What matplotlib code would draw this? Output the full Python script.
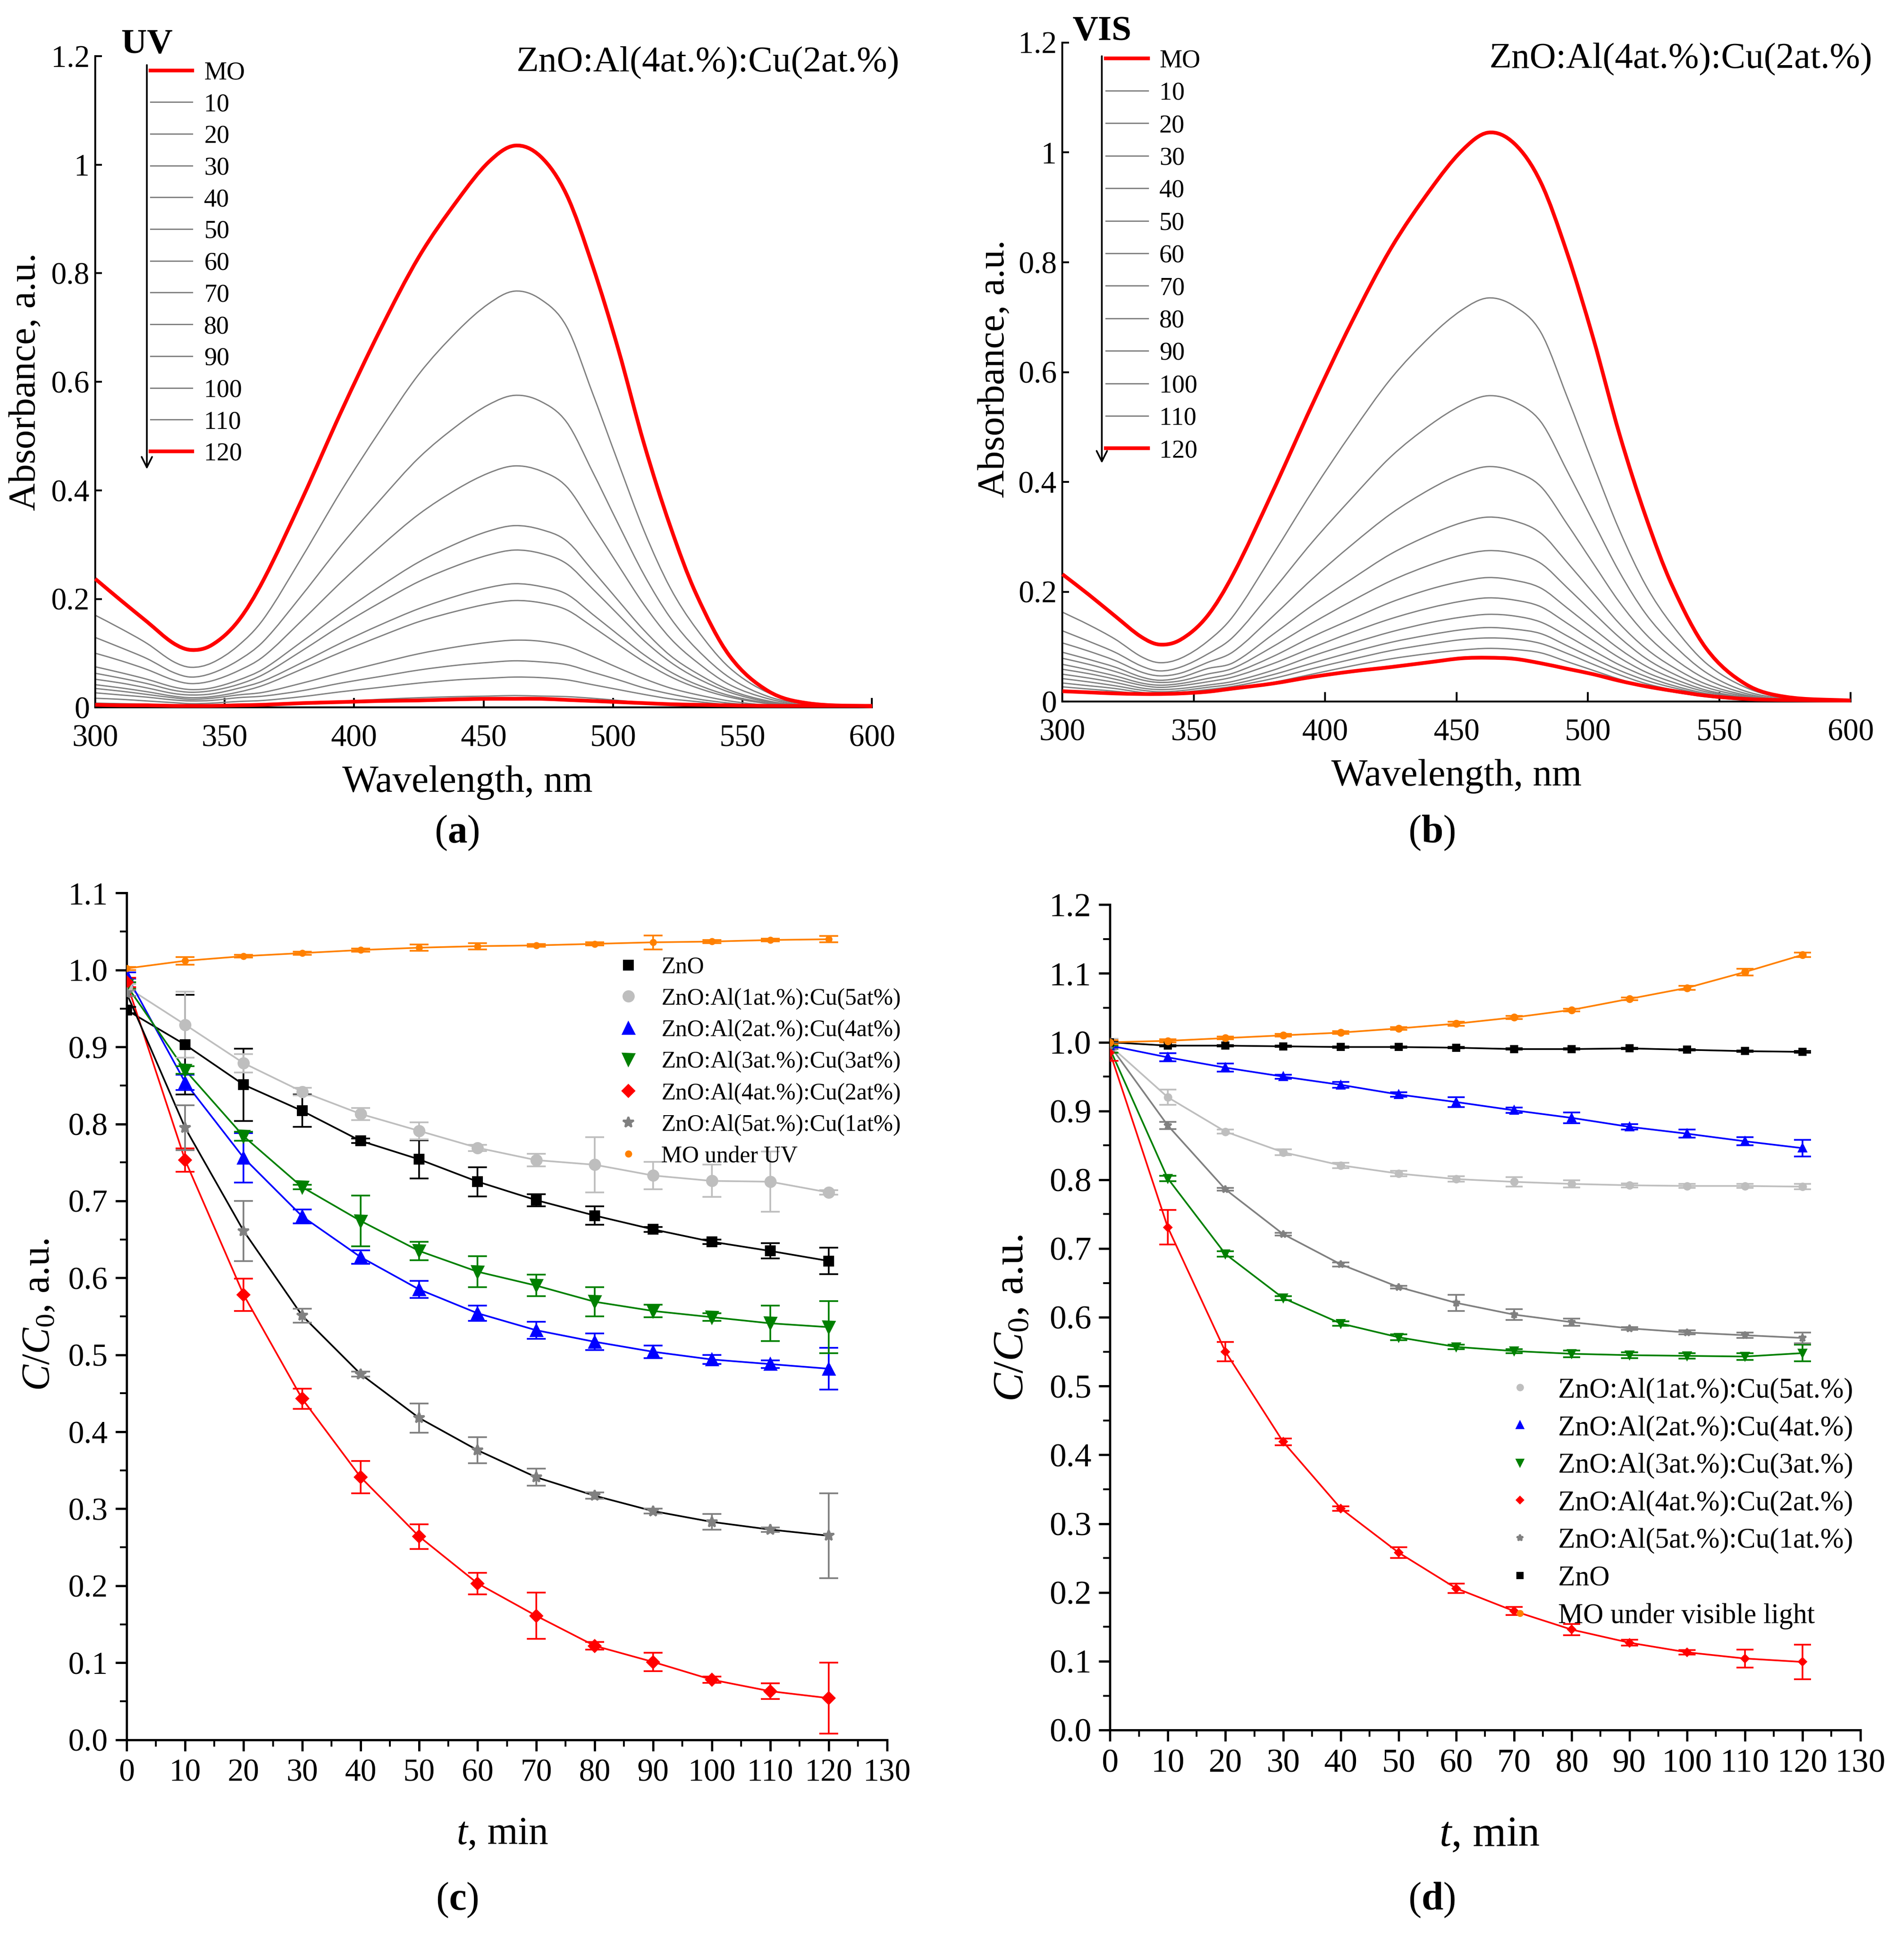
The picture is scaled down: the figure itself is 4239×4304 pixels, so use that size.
import matplotlib
matplotlib.use('Agg')
import matplotlib.pyplot as plt
from matplotlib.lines import Line2D
from matplotlib.path import Path
from matplotlib.patches import PathPatch
from matplotlib.ticker import MultipleLocator, FuncFormatter

plt.rcParams['font.family'] = ['Liberation Serif', 'DejaVu Serif']
plt.rcParams['mathtext.fontset'] = 'custom'
plt.rcParams['mathtext.rm'] = 'Liberation Serif'
plt.rcParams['mathtext.it'] = 'Liberation Serif:italic'
plt.rcParams['mathtext.bf'] = 'Liberation Serif:bold'

# ---- spectra, panels (a) UV and (b) VIS ----
wavelength = [300, 310, 320, 330, 337, 345, 355, 365, 380, 395, 410, 425, 440,
              452, 462, 472, 482, 492, 502, 512, 522, 532, 545, 560, 575, 600]
spectra_labels = ['MO', '10', '20', '30', '40', '50', '60', '70', '80', '90', '100', '110', '120']

uv_mo = [0.237, 0.197, 0.158, 0.119, 0.106, 0.115, 0.158, 0.235, 0.385, 0.545, 0.695, 0.830, 0.935, 1.005, 1.035, 1.015, 0.945, 0.815, 0.660, 0.485, 0.335, 0.210, 0.095, 0.030, 0.008, 0.002]
uv_10 = [0.170, 0.145, 0.118, 0.085, 0.074, 0.082, 0.113, 0.163, 0.278, 0.399, 0.510, 0.614, 0.694, 0.744, 0.767, 0.752, 0.702, 0.580, 0.451, 0.325, 0.221, 0.146, 0.073, 0.027, 0.008, 0.002]
uv_20 = [0.129, 0.110, 0.090, 0.065, 0.056, 0.063, 0.086, 0.122, 0.208, 0.299, 0.382, 0.460, 0.520, 0.558, 0.575, 0.564, 0.526, 0.435, 0.338, 0.244, 0.166, 0.109, 0.055, 0.020, 0.006, 0.001]
uv_30 = [0.100, 0.086, 0.070, 0.051, 0.044, 0.049, 0.067, 0.094, 0.161, 0.231, 0.296, 0.356, 0.403, 0.432, 0.445, 0.436, 0.407, 0.336, 0.262, 0.189, 0.128, 0.085, 0.042, 0.016, 0.004, 0.001]
uv_40 = [0.075, 0.064, 0.052, 0.038, 0.033, 0.036, 0.050, 0.071, 0.122, 0.174, 0.223, 0.268, 0.303, 0.325, 0.335, 0.328, 0.307, 0.253, 0.197, 0.142, 0.096, 0.064, 0.032, 0.012, 0.003, 0.001]
uv_50 = [0.063, 0.054, 0.044, 0.032, 0.028, 0.031, 0.042, 0.061, 0.105, 0.151, 0.193, 0.232, 0.262, 0.281, 0.290, 0.284, 0.265, 0.219, 0.171, 0.123, 0.084, 0.055, 0.028, 0.010, 0.003, 0.001]
uv_60 = [0.052, 0.045, 0.036, 0.026, 0.023, 0.025, 0.035, 0.049, 0.083, 0.119, 0.152, 0.182, 0.206, 0.221, 0.228, 0.223, 0.209, 0.172, 0.134, 0.097, 0.066, 0.043, 0.022, 0.008, 0.002, 0.000]
uv_70 = [0.042, 0.036, 0.029, 0.021, 0.018, 0.020, 0.028, 0.041, 0.071, 0.102, 0.131, 0.158, 0.178, 0.191, 0.197, 0.193, 0.180, 0.149, 0.116, 0.084, 0.057, 0.037, 0.019, 0.007, 0.002, 0.000]
uv_80 = [0.035, 0.030, 0.024, 0.018, 0.015, 0.017, 0.023, 0.028, 0.045, 0.064, 0.082, 0.099, 0.112, 0.120, 0.124, 0.122, 0.113, 0.094, 0.073, 0.053, 0.036, 0.024, 0.012, 0.004, 0.001, 0.000]
uv_90 = [0.027, 0.023, 0.019, 0.014, 0.012, 0.013, 0.018, 0.021, 0.031, 0.045, 0.057, 0.069, 0.078, 0.083, 0.086, 0.084, 0.079, 0.065, 0.051, 0.036, 0.025, 0.016, 0.008, 0.003, 0.001, 0.000]
uv_100 = [0.017, 0.015, 0.012, 0.009, 0.007, 0.008, 0.011, 0.013, 0.020, 0.029, 0.037, 0.045, 0.051, 0.054, 0.056, 0.055, 0.051, 0.042, 0.033, 0.024, 0.016, 0.011, 0.005, 0.002, 0.001, 0.000]
uv_110 = [0.008, 0.007, 0.006, 0.004, 0.004, 0.004, 0.005, 0.006, 0.008, 0.011, 0.015, 0.018, 0.020, 0.021, 0.022, 0.021, 0.020, 0.017, 0.013, 0.009, 0.006, 0.004, 0.002, 0.001, 0.000, 0.000]
uv_120 = [0.005, 0.004, 0.004, 0.003, 0.003, 0.003, 0.004, 0.005, 0.008, 0.010, 0.012, 0.013, 0.015, 0.016, 0.016, 0.016, 0.014, 0.012, 0.010, 0.008, 0.006, 0.005, 0.004, 0.003, 0.003, 0.003]

vis_mo = [0.232, 0.195, 0.156, 0.118, 0.104, 0.113, 0.155, 0.232, 0.382, 0.540, 0.690, 0.825, 0.932, 1.003, 1.036, 1.016, 0.946, 0.818, 0.662, 0.487, 0.337, 0.212, 0.097, 0.032, 0.009, 0.002]
vis_10 = [0.163, 0.140, 0.114, 0.082, 0.071, 0.079, 0.109, 0.156, 0.267, 0.382, 0.489, 0.588, 0.665, 0.713, 0.735, 0.720, 0.673, 0.556, 0.432, 0.312, 0.212, 0.140, 0.070, 0.026, 0.007, 0.001]
vis_20 = [0.129, 0.110, 0.090, 0.065, 0.056, 0.063, 0.086, 0.118, 0.202, 0.290, 0.370, 0.446, 0.504, 0.540, 0.557, 0.546, 0.510, 0.421, 0.328, 0.236, 0.160, 0.106, 0.053, 0.019, 0.006, 0.001]
vis_30 = [0.107, 0.092, 0.075, 0.054, 0.047, 0.052, 0.071, 0.091, 0.155, 0.223, 0.285, 0.342, 0.387, 0.415, 0.428, 0.419, 0.392, 0.324, 0.252, 0.181, 0.123, 0.081, 0.041, 0.015, 0.004, 0.001]
vis_40 = [0.090, 0.077, 0.063, 0.045, 0.039, 0.044, 0.060, 0.071, 0.122, 0.175, 0.223, 0.269, 0.304, 0.326, 0.336, 0.329, 0.307, 0.254, 0.198, 0.142, 0.097, 0.064, 0.032, 0.012, 0.003, 0.001]
vis_50 = [0.079, 0.068, 0.055, 0.040, 0.035, 0.038, 0.050, 0.061, 0.100, 0.143, 0.183, 0.220, 0.249, 0.267, 0.275, 0.270, 0.252, 0.208, 0.162, 0.117, 0.079, 0.052, 0.026, 0.010, 0.003, 0.001]
vis_60 = [0.068, 0.058, 0.047, 0.034, 0.030, 0.033, 0.042, 0.052, 0.082, 0.118, 0.150, 0.181, 0.205, 0.219, 0.226, 0.221, 0.207, 0.171, 0.133, 0.096, 0.065, 0.043, 0.021, 0.008, 0.002, 0.001]
vis_70 = [0.059, 0.051, 0.041, 0.030, 0.026, 0.029, 0.036, 0.045, 0.069, 0.098, 0.126, 0.151, 0.171, 0.183, 0.189, 0.185, 0.173, 0.143, 0.111, 0.080, 0.054, 0.036, 0.018, 0.007, 0.002, 0.001]
vis_80 = [0.050, 0.043, 0.035, 0.025, 0.022, 0.024, 0.030, 0.037, 0.057, 0.083, 0.106, 0.127, 0.144, 0.154, 0.159, 0.156, 0.145, 0.120, 0.093, 0.067, 0.046, 0.030, 0.015, 0.006, 0.002, 0.001]
vis_90 = [0.042, 0.036, 0.029, 0.021, 0.018, 0.020, 0.026, 0.032, 0.049, 0.070, 0.090, 0.108, 0.122, 0.131, 0.135, 0.132, 0.124, 0.102, 0.079, 0.057, 0.039, 0.026, 0.013, 0.005, 0.001, 0.001]
vis_100 = [0.034, 0.029, 0.024, 0.017, 0.015, 0.017, 0.022, 0.028, 0.042, 0.060, 0.077, 0.093, 0.105, 0.113, 0.116, 0.114, 0.106, 0.088, 0.068, 0.049, 0.033, 0.022, 0.011, 0.004, 0.001, 0.001]
vis_110 = [0.027, 0.023, 0.019, 0.014, 0.012, 0.014, 0.018, 0.023, 0.035, 0.050, 0.065, 0.078, 0.088, 0.094, 0.097, 0.095, 0.089, 0.073, 0.057, 0.041, 0.028, 0.018, 0.009, 0.003, 0.001, 0.001]
vis_120 = [0.019, 0.017, 0.015, 0.014, 0.014, 0.015, 0.018, 0.024, 0.033, 0.045, 0.055, 0.063, 0.072, 0.079, 0.080, 0.078, 0.070, 0.060, 0.050, 0.038, 0.028, 0.020, 0.011, 0.005, 0.003, 0.002]

# ---- kinetics, panels (c) UV and (d) VIS ----
t_min = [0, 10, 20, 30, 40, 50, 60, 70, 80, 90, 100, 110, 120]

uv_zno = [0.948, 0.903, 0.851, 0.817, 0.778, 0.754, 0.725, 0.701, 0.681, 0.663, 0.647, 0.635, 0.622]
uv_zno_err = [0.004, 0.065, 0.047, 0.021, 0.003, 0.025, 0.019, 0.008, 0.012, 0.003, 0.003, 0.010, 0.017]
uv_al1 = [0.978, 0.929, 0.879, 0.842, 0.813, 0.791, 0.769, 0.753, 0.747, 0.733, 0.726, 0.725, 0.711]
uv_al1_err = [0.004, 0.043, 0.012, 0.005, 0.008, 0.011, 0.004, 0.008, 0.036, 0.018, 0.021, 0.039, 0.003]
uv_al2 = [0.993, 0.854, 0.756, 0.680, 0.627, 0.585, 0.554, 0.532, 0.517, 0.504, 0.494, 0.488, 0.482]
uv_al2_err = [0.004, 0.010, 0.032, 0.009, 0.009, 0.011, 0.010, 0.011, 0.011, 0.008, 0.006, 0.005, 0.027]
uv_al3 = [0.980, 0.870, 0.784, 0.718, 0.674, 0.635, 0.608, 0.590, 0.569, 0.557, 0.549, 0.541, 0.536]
uv_al3_err = [0.004, 0.005, 0.006, 0.003, 0.033, 0.012, 0.020, 0.014, 0.019, 0.008, 0.005, 0.023, 0.034]
uv_al4 = [0.984, 0.753, 0.578, 0.443, 0.341, 0.264, 0.203, 0.161, 0.122, 0.101, 0.078, 0.063, 0.054]
uv_al4_err = [0.006, 0.015, 0.021, 0.013, 0.021, 0.016, 0.014, 0.030, 0.005, 0.012, 0.004, 0.010, 0.046]
uv_al5 = [0.970, 0.795, 0.661, 0.551, 0.475, 0.418, 0.376, 0.341, 0.317, 0.297, 0.283, 0.273, 0.265]
uv_al5_err = [0.004, 0.029, 0.039, 0.009, 0.003, 0.019, 0.017, 0.011, 0.004, 0.003, 0.010, 0.003, 0.055]
uv_blank = [1.002, 1.012, 1.018, 1.022, 1.026, 1.029, 1.031, 1.032, 1.034, 1.036, 1.037, 1.039, 1.040]
uv_blank_err = [0.002, 0.005, 0.002, 0.002, 0.002, 0.004, 0.004, 0.002, 0.002, 0.009, 0.002, 0.002, 0.004]

vis_zno = [1.000, 0.995, 0.995, 0.994, 0.993, 0.993, 0.992, 0.990, 0.990, 0.991, 0.989, 0.987, 0.986]
vis_zno_err = [0.002, 0.001, 0.001, 0.001, 0.001, 0.001, 0.001, 0.001, 0.001, 0.001, 0.001, 0.001, 0.001]
vis_al1 = [0.995, 0.920, 0.870, 0.840, 0.821, 0.809, 0.801, 0.797, 0.794, 0.792, 0.791, 0.791, 0.790]
vis_al1_err = [0.010, 0.011, 0.003, 0.004, 0.004, 0.004, 0.004, 0.007, 0.005, 0.003, 0.003, 0.003, 0.004]
vis_al2 = [0.995, 0.978, 0.963, 0.950, 0.938, 0.924, 0.913, 0.901, 0.890, 0.877, 0.867, 0.856, 0.846]
vis_al2_err = [0.003, 0.006, 0.006, 0.003, 0.004, 0.003, 0.007, 0.004, 0.008, 0.004, 0.006, 0.006, 0.012]
vis_al3 = [0.990, 0.802, 0.692, 0.628, 0.591, 0.571, 0.557, 0.551, 0.547, 0.545, 0.544, 0.543, 0.548]
vis_al3_err = [0.005, 0.004, 0.004, 0.003, 0.003, 0.004, 0.003, 0.003, 0.005, 0.004, 0.004, 0.005, 0.012]
vis_al4 = [0.985, 0.731, 0.550, 0.419, 0.322, 0.258, 0.206, 0.173, 0.146, 0.127, 0.113, 0.104, 0.099]
vis_al4_err = [0.012, 0.025, 0.014, 0.005, 0.003, 0.008, 0.007, 0.006, 0.008, 0.004, 0.003, 0.013, 0.025]
vis_al5 = [0.995, 0.879, 0.786, 0.721, 0.677, 0.644, 0.621, 0.604, 0.593, 0.584, 0.578, 0.574, 0.570]
vis_al5_err = [0.005, 0.005, 0.002, 0.002, 0.003, 0.002, 0.012, 0.008, 0.005, 0.002, 0.003, 0.004, 0.008]
vis_blank = [1.000, 1.002, 1.006, 1.010, 1.014, 1.020, 1.027, 1.036, 1.047, 1.063, 1.079, 1.102, 1.127]
vis_blank_err = [0.003, 0.002, 0.002, 0.002, 0.002, 0.002, 0.003, 0.002, 0.002, 0.002, 0.003, 0.005, 0.003]

sample_title = 'ZnO:Al(4at.%):Cu(2at.%)'


def spline_path(xs, ys):
    # smooth "spline connect" line through the read points (cubic Bezier segments)
    n = len(xs)
    slopes = []
    for i in range(n):
        a, b = max(i - 1, 0), min(i + 1, n - 1)
        slopes.append((ys[b] - ys[a]) / (xs[b] - xs[a]))
    verts = [(xs[0], ys[0])]
    codes = [Path.MOVETO]
    for i in range(n - 1):
        h = xs[i + 1] - xs[i]
        verts += [(xs[i] + h / 3, ys[i] + slopes[i] * h / 3),
                  (xs[i + 1] - h / 3, ys[i + 1] - slopes[i + 1] * h / 3),
                  (xs[i + 1], ys[i + 1])]
        codes += [Path.CURVE4, Path.CURVE4, Path.CURVE4]
    return Path(verts, codes)


def draw_spectra(ax, curves, tag, leg_x, leg_y, handle_len, text_pad, label_gap,
                 arrow_x, arrow_top, arrow_bot, tag_y, title_x, title_y):
    handles = []
    for i, (vals, lab) in enumerate(zip(curves, spectra_labels)):
        if i == 0 or i == len(curves) - 1:
            color, lw, z = '#FF0000', 2.0, 3
        else:
            color, lw, z = '#808080', 0.7, 2
        ax.add_patch(PathPatch(spline_path(wavelength, vals), fill=False, edgecolor=color,
                               lw=lw, zorder=z, clip_on=False, joinstyle='round'))
        handles.append(Line2D([], [], color=color, lw=lw, label=lab))
    ax.set_xlim(300, 600)
    ax.set_ylim(0, 1.2)
    ax.spines['top'].set_visible(False)
    ax.spines['right'].set_visible(False)
    for s in ('left', 'bottom'):
        ax.spines[s].set_linewidth(1.0)
    ax.set_xticks([300, 350, 400, 450, 500, 550, 600])
    ax.set_yticks([0, 0.2, 0.4, 0.6, 0.8, 1.0, 1.2])
    ax.yaxis.set_major_formatter(FuncFormatter(lambda v, p: '%g' % v))
    ax.tick_params(axis='x', direction='in', length=5, width=1.0, labelsize=16.5, pad=9)
    ax.tick_params(axis='y', direction='in', length=3.5, width=1.0, labelsize=16.5, pad=3)
    ax.set_xlabel('Wavelength, nm', fontsize=20.5, va='center')
    ax.set_ylabel('Absorbance, a.u.', fontsize=20.5, va='center')
    ax.text(title_x, title_y, sample_title, transform=ax.transAxes, ha='right', va='center', fontsize=19.5)
    ax.text(arrow_x, tag_y, tag, transform=ax.transAxes, ha='center', va='center', fontsize=19, fontweight='bold')
    ax.annotate('', xy=(arrow_x, arrow_bot), xytext=(arrow_x, arrow_top), xycoords='axes fraction',
                arrowprops=dict(arrowstyle='->', lw=0.9, color='black', mutation_scale=14))
    ax.legend(handles=handles, loc='upper left', bbox_to_anchor=(leg_x, leg_y), frameon=False, fontsize=13.6,
              handlelength=handle_len, handletextpad=text_pad, labelspacing=label_gap,
              borderpad=0, borderaxespad=0)


def draw_kinetics(ax, series, ymax, tick_size, label_size, leg_fs, leg_x, leg_y, leg_pad, leg_gap, small):
    handles = []
    for vals, errs, color, line_color, marker, ms, lab in series:
        ax.plot(t_min, vals, color=line_color, lw=0.9, zorder=2)
        ax.errorbar(t_min, vals, yerr=errs, fmt=marker, color=color, ms=ms, mec=color, mfc=color,
                    ecolor=color, elinewidth=0.9, capsize=5 if not small else 4.5, capthick=0.9, zorder=3)
        handles.append(Line2D([], [], ls='none', marker=marker, color=color, ms=ms * (0.85 if small else 1.0), label=lab))
    ax.set_xlim(0, 130)
    ax.set_ylim(0, ymax)
    ax.spines['top'].set_visible(False)
    ax.spines['right'].set_visible(False)
    for s in ('left', 'bottom'):
        ax.spines[s].set_linewidth(1.2)
    ax.xaxis.set_major_locator(MultipleLocator(10))
    ax.xaxis.set_minor_locator(MultipleLocator(5))
    ax.yaxis.set_major_locator(MultipleLocator(0.1))
    ax.yaxis.set_minor_locator(MultipleLocator(0.05))
    ax.yaxis.set_major_formatter(FuncFormatter(lambda v, p: '%.1f' % v))
    ax.tick_params(which='major', direction='out', length=6, width=1.2, labelsize=tick_size, pad=4)
    ax.tick_params(which='minor', direction='out', length=3.5, width=1.0)
    ax.set_xlabel('$t$, min', fontsize=label_size, va='center')
    ax.set_ylabel('$C/C_0$, a.u.', fontsize=label_size, va='center')
    ax.legend(handles=handles, loc='upper left', bbox_to_anchor=(leg_x, leg_y), frameon=False,
              fontsize=leg_fs, handlelength=1.0, handletextpad=leg_pad, labelspacing=leg_gap,
              borderpad=0, borderaxespad=0)


fig = plt.figure(figsize=(4239 / 300, 4304 / 300), dpi=300)

# (a) UV spectra
ax_a = fig.add_axes([0.050, 0.634, 0.408, 0.337])
draw_spectra(ax_a, [uv_mo, uv_10, uv_20, uv_30, uv_40, uv_50, uv_60, uv_70, uv_80, uv_90, uv_100, uv_110, uv_120],
             'UV', 0.071, 0.992, 1.64, 0.47, 0.33, 0.0665, 0.992, 0.36, 1.018, 1.035, 0.99)
ax_a.xaxis.set_label_coords(0.479, -0.115)
ax_a.yaxis.set_label_coords(-0.089, 0.50)

# (b) VIS spectra
ax_b = fig.add_axes([0.558, 0.637, 0.414, 0.341])
draw_spectra(ax_b, [vis_mo, vis_10, vis_20, vis_30, vis_40, vis_50, vis_60, vis_70, vis_80, vis_90, vis_100, vis_110, vis_120],
             'VIS', 0.055, 0.99, 1.66, 0.44, 0.36, 0.05, 0.985, 0.356, 1.016, 1.027, 0.975)
ax_b.xaxis.set_label_coords(0.50, -0.113)
ax_b.yaxis.set_label_coords(-0.086, 0.505)

# (c) UV kinetics
ax_c = fig.add_axes([0.0665, 0.100, 0.3995, 0.438])
uv_series = [
    (uv_zno, uv_zno_err, 'black', 'black', 's', 5.0, 'ZnO'),
    (uv_al1, uv_al1_err, '#BEBEBE', '#BEBEBE', 'o', 5.5, 'ZnO:Al(1at.%):Cu(5at%)'),
    (uv_al2, uv_al2_err, '#0000FF', '#0000FF', '^', 6.0, 'ZnO:Al(2at.%):Cu(4at%)'),
    (uv_al3, uv_al3_err, '#008000', '#008000', 'v', 6.0, 'ZnO:Al(3at.%):Cu(3at%)'),
    (uv_al4, uv_al4_err, '#FF0000', '#FF0000', 'D', 4.5, 'ZnO:Al(4at.%):Cu(2at%)'),
    (uv_al5, uv_al5_err, '#808080', 'black', '*', 6.0, 'ZnO:Al(5at.%):Cu(1at%)'),
    (uv_blank, uv_blank_err, '#FF8000', '#FF8000', 'o', 2.8, 'MO under UV'),
]
draw_kinetics(ax_c, uv_series, 1.1, 17, 21, 12.5, 0.644, 0.925, 0.92, 0.42, False)
ax_c.xaxis.set_label_coords(0.494, -0.112)
ax_c.yaxis.set_label_coords(-0.115, 0.502)

# (d) VIS kinetics
ax_d = fig.add_axes([0.583, 0.105, 0.394, 0.427])
vis_series = [
    (vis_al1, vis_al1_err, '#BEBEBE', '#BEBEBE', 'o', 3.5, 'ZnO:Al(1at.%):Cu(5at.%)'),
    (vis_al2, vis_al2_err, '#0000FF', '#0000FF', '^', 3.8, 'ZnO:Al(2at.%):Cu(4at.%)'),
    (vis_al3, vis_al3_err, '#008000', '#008000', 'v', 3.8, 'ZnO:Al(3at.%):Cu(3at.%)'),
    (vis_al4, vis_al4_err, '#FF0000', '#FF0000', 'D', 2.8, 'ZnO:Al(4at.%):Cu(2at.%)'),
    (vis_al5, vis_al5_err, '#808080', '#808080', '*', 4.0, 'ZnO:Al(5at.%):Cu(1at.%)'),
    (vis_zno, vis_zno_err, 'black', 'black', 's', 3.2, 'ZnO'),
    (vis_blank, vis_blank_err, '#FF8000', '#FF8000', 'o', 3.2, 'MO under visible light'),
]
draw_kinetics(ax_d, vis_series, 1.2, 18, 23, 15, 0.528, 0.427, 0.86, 0.41, True)
ax_d.xaxis.set_label_coords(0.506, -0.128)
ax_d.yaxis.set_label_coords(-0.13, 0.499)

# panel letters
for x, y, letter in [(0.240, 0.569, 'a'), (0.752, 0.569, 'b'), (0.240, 0.017, 'c'), (0.752, 0.017, 'd')]:
    fig.text(x, y, '($\\mathbf{%s}$)' % letter, ha='center', va='center', fontsize=21)

fig.savefig('out.png', dpi=300)
